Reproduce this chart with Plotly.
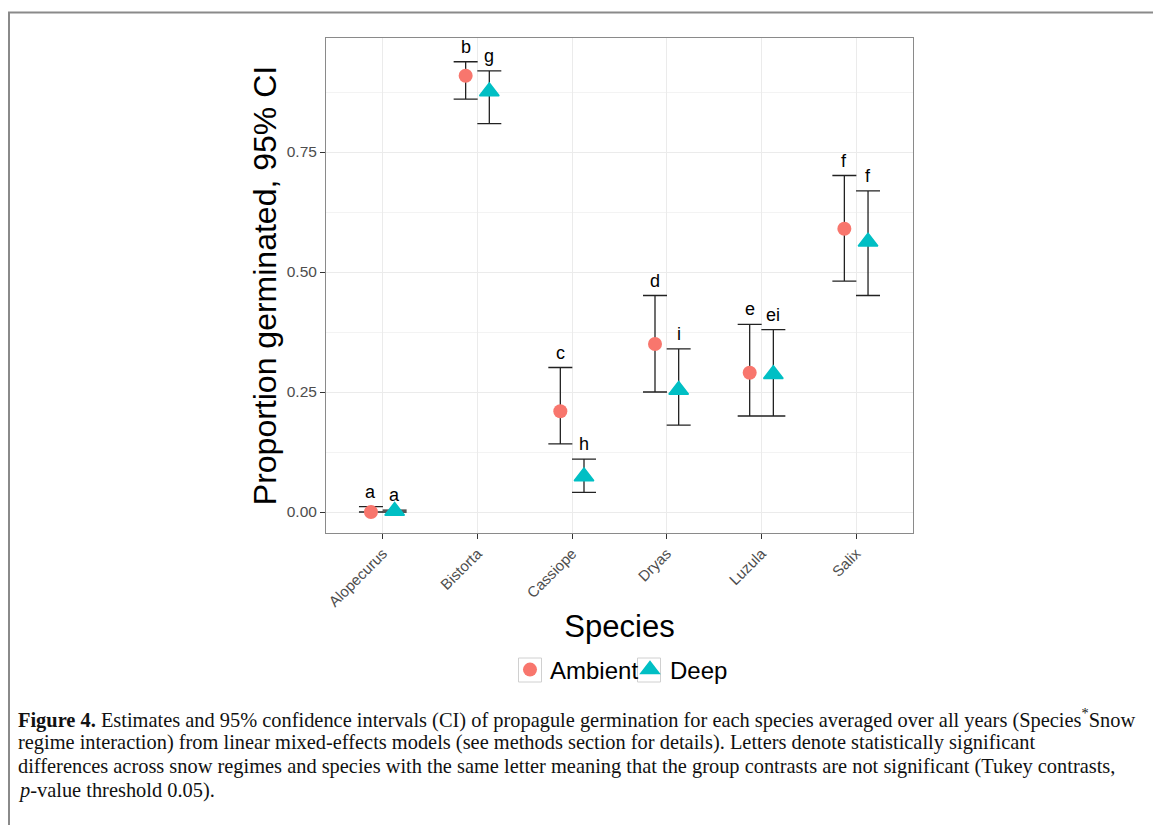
import plotly.graph_objects as go

# ---- data ----
species = ["Alopecurus", "Bistorta", "Cassiope", "Dryas", "Luzula", "Salix"]
ambient_est = [0.000, 0.909, 0.210, 0.350, 0.290, 0.590]
ambient_lo = [0.000, 0.860, 0.142, 0.250, 0.200, 0.481]
ambient_hi = [0.011, 0.938, 0.301, 0.451, 0.391, 0.701]
deep_est = [0.002, 0.876, 0.074, 0.254, 0.287, 0.563]
deep_lo = [0.000, 0.809, 0.041, 0.181, 0.200, 0.451]
deep_hi = [0.004, 0.919, 0.110, 0.340, 0.380, 0.669]
ambient_letters = ["a", "b", "c", "d", "e", "f"]
deep_letters = ["a", "g", "h", "i", "ei", "f"]
y_ticks = [0.0, 0.25, 0.5, 0.75]
caption_lines = [
    "<b>Figure 4.</b> Estimates and 95% confidence intervals (CI) of propagule germination for each species averaged over all years (Species<sup>*</sup>Snow",
    "regime interaction) from linear mixed-effects models (see methods section for details). Letters denote statistically significant",
    "differences across snow regimes and species with the same letter meaning that the group contrasts are not significant (Tukey contrasts,",
    "<i>p</i>-value threshold 0.05).",
]

W, H = 1153, 825
L, R, T, B = 326, 913, 38, 533   # panel in pixels
DODGE = 0.125

def px_x(p):
    return (p - L) / (R - L)

def px_y(p):
    return (B - p) / (B - T)

SANS = "Liberation Sans, Arial, sans-serif"
SERIF = "Liberation Serif, Times New Roman, serif"

fig = go.Figure()

groups = [
    ("Ambient", ambient_est, ambient_lo, ambient_hi, -DODGE, "#F8766D", "circle", 14, 0, ambient_letters),
    ("Deep", deep_est, deep_lo, deep_hi, DODGE, "#00BFC4", "triangle-up", 17, 1.5, deep_letters),
]

for name, est, lo, hi, off, col, sym, size, lw, letters in groups:
    xs = [i + off for i in range(len(species))]
    fig.add_trace(go.Scatter(
        x=xs, y=est, mode="markers", name=name,
        marker=dict(color=col, symbol=sym, size=size, line=dict(width=lw, color=col)),
        error_y=dict(type="data", symmetric=False,
                     array=[h - e for h, e in zip(hi, est)],
                     arrayminus=[e - l for e, l in zip(est, lo)],
                     color="#222222", thickness=1.3, width=12),
    ))
    for x, h, t in zip(xs, hi, letters):
        fig.add_annotation(x=x, y=h, text=t, showarrow=False, yshift=15,
                           xanchor="center", yanchor="middle",
                           font=dict(family=SANS, size=18, color="black"))

# caption, one annotation per printed line
for k, line in enumerate(caption_lines):
    fig.add_annotation(xref="paper", yref="paper", x=px_x(17), y=px_y(718 + 24 * k),
                       xanchor="left", yanchor="middle", align="left", showarrow=False,
                       text=line, borderpad=0,
                       font=dict(family=SERIF, size=20.4, color="#111111"))

# outer figure frame (left and top edges visible)
fig.add_shape(type="rect", xref="paper", yref="paper",
              x0=px_x(9), x1=px_x(1180), y0=px_y(850), y1=px_y(12.5),
              line=dict(color="#8a8a8a", width=2), layer="above")

# legend key boxes (ggplot style)
for cx in (530, 649):
    fig.add_shape(type="rect", xref="paper", yref="paper",
                  x0=px_x(cx - 11.5), x1=px_x(cx + 11.5),
                  y0=px_y(670 + 12), y1=px_y(670 - 12),
                  line=dict(color="#D0D0D0", width=1), fillcolor="rgba(0,0,0,0)",
                  layer="below")

fig.update_layout(
    width=W, height=H,
    margin=dict(l=L, r=W - R, t=T, b=H - B, autoexpand=False),
    paper_bgcolor="white", plot_bgcolor="white",
    font=dict(family=SANS, color="black"),
    showlegend=True,
    legend=dict(orientation="h", x=px_x(510), xanchor="left",
                y=px_y(670), yanchor="middle",
                font=dict(family=SANS, size=24, color="black"),
                itemwidth=30, entrywidth=75, entrywidthmode="pixels",
                tracegroupgap=0, bgcolor="rgba(0,0,0,0)"),
)

fig.update_xaxes(
    range=[-0.6, len(species) - 0.4],
    tickmode="array", tickvals=list(range(len(species))), ticktext=species,
    tickangle=-45, tickfont=dict(family=SANS, size=15, color="#4D4D4D"),
    ticks="outside", ticklen=5, tickcolor="#333333",
    showgrid=True, gridcolor="#EBEBEB", gridwidth=1,
    showline=True, mirror=True, linecolor="#8a8a8a", linewidth=1,
    zeroline=False,
    title=dict(text="Species", font=dict(family=SANS, size=31, color="black"), standoff=6),
)
fig.update_yaxes(
    range=[-0.04375, 0.9875],
    tickmode="array", tickvals=y_ticks, ticktext=[f"{v:.2f}" for v in y_ticks],
    tickfont=dict(family=SANS, size=15.5, color="#4D4D4D"),
    ticks="outside", ticklen=5, tickcolor="#333333",
    showgrid=True, gridcolor="#EBEBEB", gridwidth=1,
    minor=dict(tickmode="array", tickvals=[0.125, 0.375, 0.625, 0.875],
               showgrid=True, gridcolor="#F3F3F3", gridwidth=0.6, ticks=""),
    showline=True, mirror=True, linecolor="#8a8a8a", linewidth=1,
    zeroline=False,
    title=dict(text="Proportion germinated, 95% CI",
               font=dict(family=SANS, size=32, color="black"), standoff=0),
)

fig.write_html("out.html", config={"displayModeBar": False},
               post_script="document.body.style.margin='0px';")
